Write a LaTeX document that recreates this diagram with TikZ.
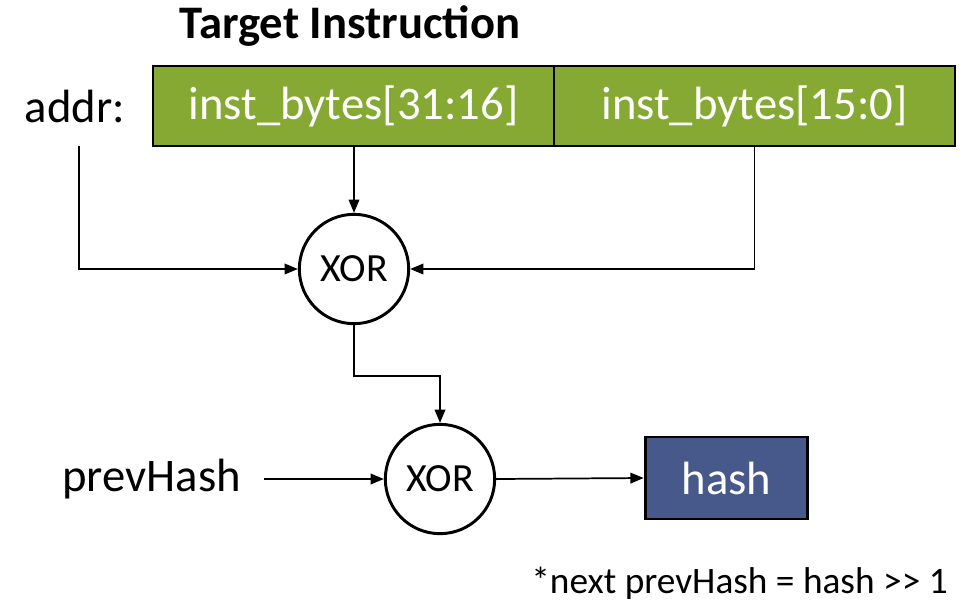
\documentclass[tikz,border=0pt]{standalone}
\usepackage{fontspec}
\setmainfont{Carlito}
\usetikzlibrary{arrows.meta}
\definecolor{instgreen}{RGB}{133,169,51}
\definecolor{hashblue}{RGB}{71,89,139}
\tikzset{
  conn/.style={line width=1.3pt,-{Triangle[length=10pt,width=8pt]}},
  plain/.style={line width=1.3pt},
  xorgate/.style={circle,draw,line width=2.2pt,minimum size=82pt,inner sep=0pt,font=\fontsize{30}{34}\selectfont},
  instbox/.style={rectangle,draw,fill=instgreen,line width=2.2pt,minimum width=300.75pt,minimum height=60pt,inner sep=0pt,text=white,font=\fontsize{35}{40}\selectfont},
  hashbox/.style={rectangle,draw,fill=hashblue,line width=2.2pt,minimum width=122pt,minimum height=61.5pt,inner sep=0pt,text=white,font=\fontsize{35}{40}\selectfont},
  lbl/.style={inner sep=0pt,font=\fontsize{35}{40}\selectfont},
}
\begin{document}
\begin{tikzpicture}[x=0.75pt,y=-0.75pt]
\useasboundingbox (0,0) rectangle (969,604);
\node[lbl,font=\bfseries\fontsize{35}{40}\selectfont] (title) at (350,26) {Target Instruction};
\node[lbl] (addr) at (75,106) {addr:};
\node[instbox] (b1) at (353.5,106) {inst\_bytes[31:16]};
\node[instbox] (b2) at (754.5,106) {inst\_bytes[15:0]};
\node[xorgate] (x1) at (354,269) {XOR};
\node[xorgate] (x2) at (440,479) {XOR};
\node[lbl,anchor=east] (prev) at (241,479) {prevHash};
\node[hashbox] (hash) at (726.5,478) {hash};
\node[inner sep=0pt,anchor=east,font=\fontsize{28}{32}\selectfont] (note) at (948,583) {*next prevHash = hash >\kern0pt> 1};
\coordinate (a0) at (79,146);
\draw[conn] (a0) |- (x1.west);
\draw[conn] (b1.south -| x1) -- (x1.north);
\draw[conn] (b2.south) |- (x1.east);
\draw[conn] (x1.south) -- ++(0,51) -| (x2.north);
\draw[conn] ([xshift=17pt]prev.east) -- (x2.west);
\draw[conn] (x2.east) -- (hash.west);
\end{tikzpicture}
\end{document}
